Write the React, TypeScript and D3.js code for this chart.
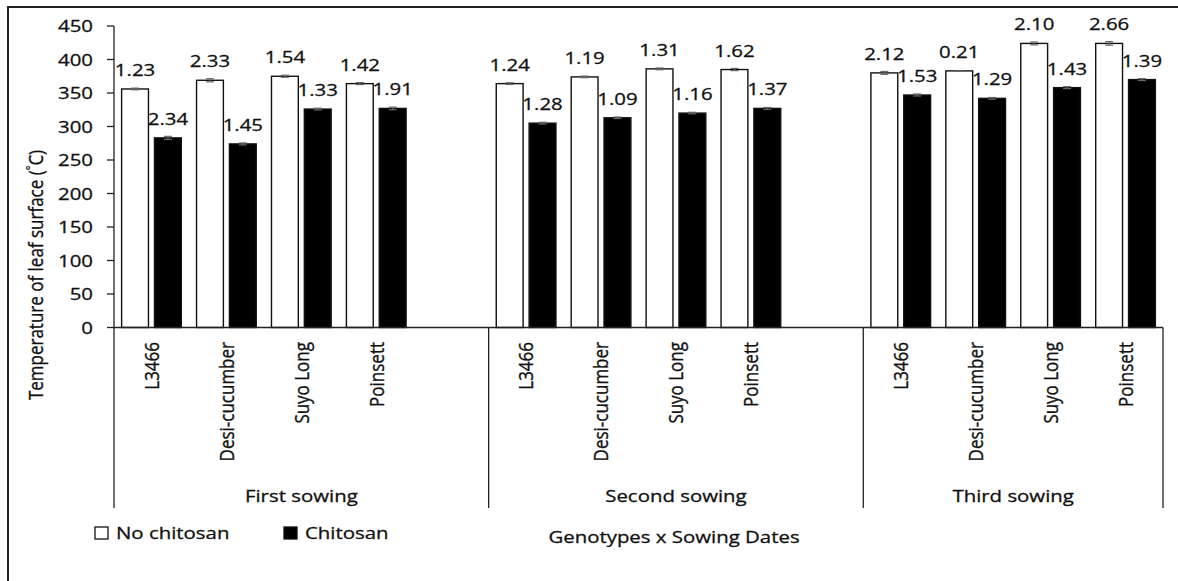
import React from "react";
import * as d3 from "d3";

// Genotypes within each sowing date
const genotypes = ["L3466", "Desi-cucumber", "Suyo Long", "Poinsett"];
const sowings = ["First sowing", "Second sowing", "Third sowing"];

// Mean leaf surface temperature, ordered sowing by sowing, genotype by genotype
const noChitosan = [356, 369, 375, 364, 364, 374, 386, 385, 380, 383, 424, 424];
const chitosan = [283, 274, 326, 327, 305, 313, 320, 327, 347, 342, 358, 370];

// Standard errors shown above the bars
const noChitosanSE = [1.23, 2.33, 1.54, 1.42, 1.24, 1.19, 1.31, 1.62, 2.12, 0.21, 2.1, 2.66];
const chitosanSE = [2.34, 1.45, 1.33, 1.91, 1.28, 1.09, 1.16, 1.37, 1.53, 1.29, 1.43, 1.39];

const yTicks = [0, 50, 100, 150, 200, 250, 300, 350, 400, 450];
const seriesNames = ["No chitosan", "Chitosan"];

const W = 1178;
const H = 581;
const FONT = "'Open Sans', 'DejaVu Sans', sans-serif";
const FS = 17;
const SX = 1.2; // horizontal stretch of the exported chart's lettering
const INK = "#111";

// Slots along the axis: each sowing holds its genotypes; the first two end with an empty slot
const slots: { key: string; sowing: number; geno: number }[] = [];
sowings.forEach((s, si) => {
  genotypes.forEach((g, gi) => slots.push({ key: `${si}-${gi}`, sowing: si, geno: gi }));
  if (si < sowings.length - 1) slots.push({ key: `${si}-gap`, sowing: si, geno: -1 });
});

const x = d3.scaleBand<string>().domain(slots.map((d) => d.key)).range([114, 1163]).padding(0);
const inner = d3
  .scaleBand<string>()
  .domain(seriesNames)
  .range([0, x.bandwidth()])
  .paddingInner(0.183)
  .paddingOuter(0.232);
const y = d3.scaleLinear().domain([0, 450]).range([327.5, 26]);

const hText = (tx: number, ty: number) => `translate(${tx},${ty}) scale(${SX},1)`;
const vText = (tx: number, ty: number) => `translate(${tx},${ty}) scale(${SX},1) rotate(-90)`;

export default function App() {
  const points = slots.filter((s) => s.geno >= 0);
  const series = [
    { name: seriesNames[0], values: noChitosan, se: noChitosanSE, fill: "#ffffff" },
    { name: seriesNames[1], values: chitosan, se: chitosanSE, fill: "#000000" },
  ];

  // sowing group boundaries along the axis
  const bounds = sowings.map((_, si) => {
    const own = slots.filter((s) => s.sowing === si);
    const x0 = x(own[0].key)!;
    const x1 = x(own[own.length - 1].key)! + x.bandwidth();
    return { x0, x1 };
  });
  const sepXs = [bounds[0].x0, ...bounds.map((b) => b.x1)];
  const y0 = y(0);

  return (
    <svg
      width={W}
      height={H}
      style={{ position: "absolute", left: 0, top: 0, background: "#fff" }}
      fontFamily={FONT}
      fontSize={FS}
    >
      <rect x={0} y={0} width={W} height={H} fill="#fff" />
      {/* chart frame */}
      <line x1={8} x2={W} y1={7} y2={7} stroke="#222" strokeWidth={2} />
      <line x1={8} x2={8} y1={6} y2={H} stroke="#222" strokeWidth={2} />

      <g fill={INK} stroke={INK} strokeWidth={0.3}>
        {yTicks.map((t) => (
          <text key={t} transform={hText(93, y(t))} textAnchor="end" dy="0.36em">
            {t}
          </text>
        ))}
        <text transform={vText(43, 275)} textAnchor="middle">
          Temperature of leaf surface (
          <tspan fontSize={11} dy={-7}>
            °
          </tspan>
          <tspan dy={7}>C)</tspan>
        </text>
      </g>

      {/* y axis */}
      <line x1={114} x2={114} y1={y(450)} y2={y0} stroke="#222" strokeWidth={1.3} />
      {yTicks.map((t) => (
        <line key={t} x1={107} x2={114} y1={y(t)} y2={y(t)} stroke="#222" strokeWidth={1.3} />
      ))}

      {/* bars, error bars and their labels */}
      {series.map((s) =>
        points.map((p, i) => {
          const v = s.values[i];
          const bx = x(p.key)! + inner(s.name)!;
          const bw = inner.bandwidth();
          const cx = bx + bw / 2;
          return (
            <g key={s.name + p.key}>
              <rect
                x={bx}
                y={y(v)}
                width={bw}
                height={y0 - y(v)}
                fill={s.fill}
                stroke="#111"
                strokeWidth={1.4}
              />
              <line x1={cx} x2={cx} y1={y(v + s.se[i])} y2={y(v - s.se[i])} stroke="#666" strokeWidth={1.2} />
              <line x1={cx - 4} x2={cx + 4} y1={y(v + s.se[i])} y2={y(v + s.se[i])} stroke="#666" strokeWidth={1.2} />
              <line x1={cx - 4} x2={cx + 4} y1={y(v - s.se[i])} y2={y(v - s.se[i])} stroke="#666" strokeWidth={1.2} />
              <text
                transform={hText(cx, y(v) - 13)}
                textAnchor="middle"
                fill={INK}
                stroke={INK}
                strokeWidth={0.3}
              >
                {s.se[i].toFixed(2)}
              </text>
            </g>
          );
        })
      )}

      {/* category axis */}
      <line x1={114} x2={1163} y1={y0} y2={y0} stroke="#222" strokeWidth={1.3} />
      {sepXs.map((sx, i) => (
        <line key={i} x1={sx} x2={sx} y1={y0} y2={508} stroke="#222" strokeWidth={1.3} />
      ))}
      <g fill={INK} stroke={INK} strokeWidth={0.3}>
        {points.map((p) => (
          <text
            key={p.key}
            transform={vText(x(p.key)! + x.bandwidth() / 2, 342)}
            textAnchor="end"
            dy="0.36em"
          >
            {genotypes[p.geno]}
          </text>
        ))}
        {sowings.map((s, si) => (
          <text key={s} transform={hText((bounds[si].x0 + bounds[si].x1) / 2, 502)} textAnchor="middle">
            {s}
          </text>
        ))}
      </g>

      {/* legend */}
      {series.map((s, i) => {
        const lx = [95, 284][i];
        return (
          <g key={s.name}>
            <rect x={lx} y={527} width={13} height={12} fill={s.fill} stroke="#111" strokeWidth={1.3} />
            <text transform={hText(lx + 21, 539)} fill={INK} stroke={INK} strokeWidth={0.3}>
              {s.name}
            </text>
          </g>
        );
      })}
      <text transform={hText(674, 543)} textAnchor="middle" fill={INK} stroke={INK} strokeWidth={0.3}>
        Genotypes x Sowing Dates
      </text>
    </svg>
  );
}
